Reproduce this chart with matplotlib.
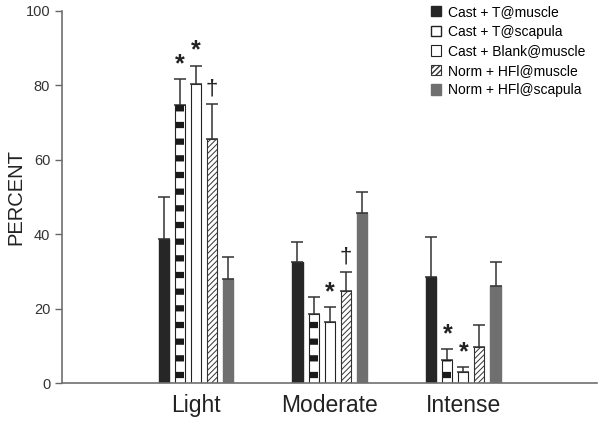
import numpy as np
import matplotlib
matplotlib.use('Agg')
import matplotlib.pyplot as plt
from matplotlib.patches import Patch

plt.rcParams['font.family'] = ['Liberation Sans', 'DejaVu Sans']

groups = ['Light', 'Moderate', 'Intense']
series = ['Cast + T@muscle', 'Cast + T@scapula', 'Cast + Blank@muscle',
          'Norm + HFl@muscle', 'Norm + HFl@scapula']
# bar heights per series (Light, Moderate, Intense)
cast_t_muscle = [38.7, 32.6, 28.6]
cast_t_scapula = [74.7, 18.6, 6.2]
cast_blank_muscle = [80.3, 16.5, 2.9]
norm_hfl_muscle = [65.6, 24.8, 9.7]
norm_hfl_scapula = [28.0, 45.8, 26.1]
# upper error (SE) per series
err_cast_t_muscle = [11.4, 5.3, 10.6]
err_cast_t_scapula = [7.0, 4.6, 3.0]
err_cast_blank_muscle = [5.0, 4.0, 1.4]
err_norm_hfl_muscle = [9.3, 5.2, 5.8]
err_norm_hfl_scapula = [6.0, 5.6, 6.5]
# significance marks: (group index, series index, symbol)
marks = [(0, 1, '*'), (0, 2, '*'), (0, 3, '\u2020'),
         (1, 2, '*'), (1, 3, '\u2020'),
         (2, 1, '*'), (2, 2, '*')]

values = [cast_t_muscle, cast_t_scapula, cast_blank_muscle, norm_hfl_muscle, norm_hfl_scapula]
errors = [err_cast_t_muscle, err_cast_t_scapula, err_cast_blank_muscle,
          err_norm_hfl_muscle, err_norm_hfl_scapula]

fig = plt.figure(figsize=(6.02, 4.22), dpi=100)
ax = fig.add_axes([0.103, 0.092, 0.889, 0.882])

x = np.arange(len(groups))
width = 0.075
offsets = [-0.24, -0.12, 0.0, 0.12, 0.24]
ecol = '#333333'
ekw = dict(ecolor=ecol, elinewidth=1.1, capsize=4, capthick=1.1)

def err_pair(e):
       return [np.zeros(len(e)), e]

# black bars
ax.bar(x + offsets[0], values[0], width, color='#262626', edgecolor='#262626',
       yerr=err_pair(errors[0]), error_kw=ekw, zorder=2)
# white bars with black dashes
ax.bar(x + offsets[1], values[1], width, color='white', edgecolor='#222222', linewidth=0.8,
       yerr=err_pair(errors[1]), error_kw=ekw, zorder=2)
inner = ax.bar(x + offsets[1], values[1], width * 0.8, color='none', edgecolor='#1a1a1a',
               linewidth=0, hatch='-', zorder=3)
for b in inner:
       if hasattr(b, 'set_hatch_linewidth'):
              b.set_hatch_linewidth(4.5)
# plain white bars
ax.bar(x + offsets[2], values[2], width, color='white', edgecolor='#222222', linewidth=0.8,
       yerr=err_pair(errors[2]), error_kw=ekw, zorder=2)
# hatched bars
hb = ax.bar(x + offsets[3], values[3], width, color='white', edgecolor='#333333', linewidth=0.8,
            hatch='//////', yerr=err_pair(errors[3]), error_kw=ekw, zorder=2)
for b in hb:
       if hasattr(b, 'set_hatch_linewidth'):
              b.set_hatch_linewidth(0.7)
# gray bars
ax.bar(x + offsets[4], values[4], width, color='#6f6f6f', edgecolor='#6f6f6f',
       yerr=err_pair(errors[4]), error_kw=ekw, zorder=2)

for g, s, sym in marks:
       top = values[s][g] + errors[s][g]
       if sym == '*':
              ax.text(x[g] + offsets[s], top + 0.8, sym, ha='center', va='bottom',
                      fontsize=18, color='#222222', fontweight='bold')
       else:
              ax.text(x[g] + offsets[s], top + 1.2, sym, ha='center', va='bottom',
                      fontsize=16, color='#222222')

ax.set_xlim(-1, 3)
ax.set_ylim(0, 100)
ax.set_xticks(x)
ax.set_xticklabels(groups, fontsize=16.5, color='#222222')
ax.tick_params(axis='x', length=0, pad=8)
ax.set_yticks(np.arange(0, 101, 20))
ax.tick_params(axis='y', labelsize=10.5, labelcolor='#333333', color='#666666', length=5, width=1)
ax.set_ylabel('PERCENT', fontsize=14.5, color='#222222', labelpad=0.5)
for side in ['top', 'right']:
       ax.spines[side].set_visible(False)
for side in ['left', 'bottom']:
       ax.spines[side].set_color('#707070')
       ax.spines[side].set_linewidth(1.2)

handles = [
       Patch(facecolor='#262626', edgecolor='#262626'),
       Patch(facecolor='white', edgecolor='#222222', hatch='-'),
       Patch(facecolor='white', edgecolor='#222222', linewidth=0.8),
       Patch(facecolor='white', edgecolor='#333333', hatch='//////', linewidth=0.8),
       Patch(facecolor='#6f6f6f', edgecolor='#6f6f6f'),
]
ax.legend(handles, series, loc='upper right', bbox_to_anchor=(0.983, 1.023), frameon=False,
          fontsize=10, handlelength=0.75, handleheight=0.75, handletextpad=0.5,
          labelspacing=0.4, borderaxespad=0, borderpad=0.2)

fig.savefig('out.png', dpi=100)
